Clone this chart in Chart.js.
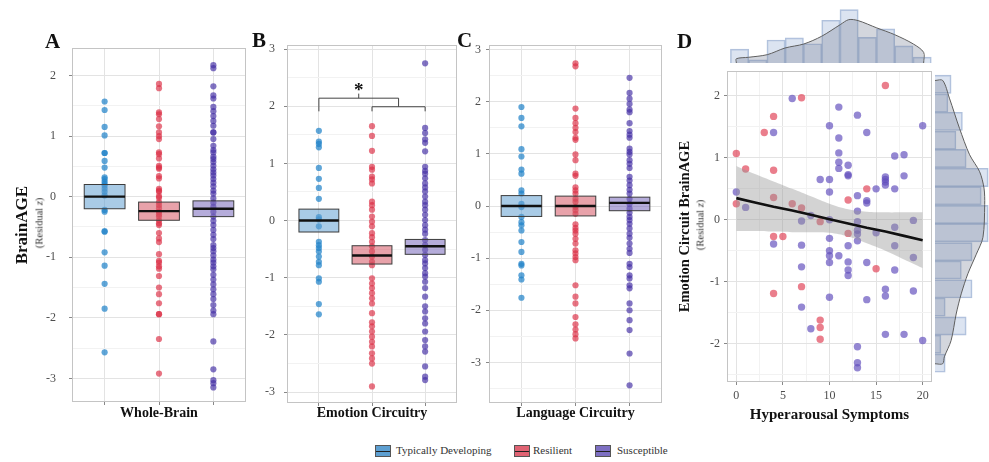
<!DOCTYPE html>
<html>
<head>
<meta charset="utf-8">
<title>BrainAGE by group</title>
<script src="https://cdn.jsdelivr.net/npm/chart.js@4.4.1/dist/chart.umd.min.js"></script>
<style>
  body { margin: 0; background: #fff; }
  #fig { position: relative; width: 989px; height: 462px; overflow: hidden; font-family: "Liberation Serif", serif; color: #222; }
  #fig canvas { position: absolute; }
  .letter { position: absolute; font-size: 21px; line-height: 21px; font-weight: bold; color: #111; }
  .sub { position: absolute; font-size: 10.5px; white-space: nowrap; color: #333; transform: translate(-50%, -50%) rotate(-90deg); }
  .key { position: absolute; top: 445px; width: 16px; height: 12px; border: 1px solid #555; box-sizing: border-box; }
  .key::after { content: ""; position: absolute; left: 0; right: 0; top: 4.5px; height: 1.5px; background: #222; }
  .ktxt { position: absolute; top: 443px; font-size: 11px; line-height: 15px; color: #333; white-space: nowrap; }
</style>
</head>
<body>
<div id="fig">
  <canvas id="cA" width="250" height="407" style="left:0;top:28px"></canvas>
  <canvas id="cB" width="211" height="407" style="left:250px;top:28px"></canvas>
  <canvas id="cC" width="205" height="407" style="left:461px;top:28px"></canvas>
  <canvas id="cD" width="270" height="372" style="left:666px;top:60px"></canvas>
  <canvas id="cTop" width="206" height="55" style="left:727px;top:8px"></canvas>
  <canvas id="cRight" width="54" height="316" style="left:935px;top:66px"></canvas>
  <div class="letter" style="left:45px;top:31px">A</div>
  <div class="letter" style="left:252px;top:30px">B</div>
  <div class="letter" style="left:457px;top:30px">C</div>
  <div class="letter" style="left:677px;top:31px">D</div>
  <div class="sub" style="left:39px;top:223px">(Residual <i>z</i>)</div>
  <div class="sub" style="left:700px;top:225px">(Residual <i>z</i>)</div>
  <div id="legend"></div>
</div>
<script>
// ---- data ----
const groups = ["Typically Developing", "Resilient", "Susceptible"];

// A: whole-brain residual BrainAGE per group
const wholeTD = [1.57, 1.43, 1.15, 1.01, 0.72, 0.72, 0.59, 0.48, 0.32, 0.29, 0.25, 0.21, 0.18, 0.13, 0.08, 0.02,
  -0.22, -0.25, -0.57, -0.58, -0.92, -1.14, -1.44, -1.85, -2.57];
const wholeRes = [1.86, 1.79, 1.39, 1.36, 1.28, 1.16, 1.06, 1.0, 0.95, 0.73, 0.7, 0.63, 0.51, 0.48, 0.46, 0.34, 0.3,
  0.13, 0.1, 0.08, 0.01, -0.02, -0.09, -0.14, -0.19, -0.25, -0.29, -0.33, -0.39, -0.44, -0.47, -0.6, -0.69, -0.75,
  -0.95, -1.06, -1.09, -1.15, -1.19, -1.31, -1.5, -1.61, -1.76, -1.94, -1.94, -2.35, -2.92];
const wholeSus = [2.17, 2.12, 1.82, 1.67, 1.62, 1.48, 1.41, 1.33, 1.25, 1.17, 1.06, 1.06, 0.95, 0.84, 0.77, 0.73, 0.66,
  0.62, 0.57, 0.51, 0.45, 0.4, 0.35, 0.29, 0.23, 0.17, 0.1, 0.05, -0.03, -0.1, -0.17, -0.25, -0.33, -0.4, -0.47, -0.55,
  -0.63, -0.7, -0.8, -0.85, -0.9, -0.97, -1.04, -1.09, -1.15, -1.2, -1.29, -1.37, -1.45, -1.53, -1.61, -1.69, -1.79,
  -1.88, -1.94, -2.39, -2.85, -3.03, -3.08, -3.15];
const wholeBox = [[-0.2, 0, 0.2], [-0.39, -0.24, -0.09], [-0.33, -0.2, -0.07]]; // q1, median, q3

// B: emotion circuitry
const emoTD = [1.57, 1.38, 1.34, 1.28, 0.92, 0.73, 0.57, 0.38, 0.06, 0.02, -0.1, -0.37, -0.43, -0.48, -0.54, -0.63,
  -0.72, -0.78, -1.01, -1.07, -1.46, -1.64];
const emoRes = [1.65, 1.48, 1.22, 0.94, 0.89, 0.77, 0.72, 0.65, 0.33, 0.27, 0.19, 0.07, -0.02, -0.1, -0.22, -0.29,
  -0.37, -0.45, -0.54, -0.63, -0.72, -0.78, -1.01, -1.1, -1.18, -1.27, -1.36, -1.45, -1.62, -1.78, -1.85, -1.94,
  -2.03, -2.12, -2.2, -2.32, -2.41, -2.5, -2.9];
const emoSus = [2.75, 1.62, 1.53, 1.42, 1.36, 1.21, 0.94, 0.87, 0.82, 0.74, 0.65, 0.58, 0.51, 0.42, 0.33, 0.27, 0.19,
  0.1, 0.01, -0.08, -0.16, -0.23, -0.34, -0.43, -0.51, -0.6, -0.69, -0.75, -0.83, -0.92, -0.98, -1.07, -1.18, -1.33,
  -1.5, -1.59, -1.71, -1.8, -1.94, -2.09, -2.2, -2.29, -2.55, -2.73, -2.79];
const emoBox = [[-0.2, 0, 0.2], [-0.76, -0.61, -0.44], [-0.59, -0.45, -0.33]];

// C: language circuitry
const langTD = [1.9, 1.69, 1.53, 1.09, 0.95, 0.7, 0.62, 0.3, 0.24, 0.04, -0.02, -0.21, -0.31, -0.37, -0.47, -0.69,
  -0.88, -1.11, -1.14, -1.33, -1.41, -1.76];
const langRes = [2.74, 2.68, 1.87, 1.69, 1.59, 1.5, 1.42, 1.31, 1.27, 0.99, 0.88, 0.62, 0.58, 0.36, 0.3, 0.24, 0.14,
  0.08, -0.02, -0.08, -0.15, -0.35, -0.42, -0.47, -0.53, -0.63, -0.72, -0.85, -0.91, -0.98, -1.04, -1.52, -1.74,
  -1.87, -2.13, -2.27, -2.37, -2.46, -2.54];
const langSus = [2.46, 2.17, 2.06, 1.96, 1.85, 1.8, 1.59, 1.44, 1.37, 1.31, 1.1, 1.04, 0.99, 0.88, 0.81, 0.73, 0.56,
  0.49, 0.4, 0.31, 0.24, 0.14, 0.04, -0.05, -0.13, -0.21, -0.27, -0.34, -0.43, -0.53, -0.61, -0.72, -0.82, -0.9,
  -1.11, -1.17, -1.33, -1.39, -1.52, -1.58, -1.87, -2.0, -2.19, -2.38, -2.83, -3.44];
const langBox = [[-0.2, 0, 0.2], [-0.19, 0, 0.19], [-0.09, 0.06, 0.17]];

// D: hyperarousal symptoms vs emotion circuit BrainAGE, [symptoms, residual]
const dResilient = [[16, 2.17], [7, 1.97], [4, 1.67], [3, 1.41], [0, 1.07], [1, 0.82], [4, 0.8], [14, 0.5], [12, 0.32],
  [4, 0.36], [0, 0.26], [6, 0.26], [7, 0.19], [9, -0.03], [12, -0.22], [4, -0.27], [5, -0.27], [15, -0.79],
  [4, -1.19], [7, -1.08], [9, -1.62], [9, -1.74], [9, -1.93]];
const dSusceptible = [[6, 1.96], [11, 1.82], [13, 1.69], [4, 1.41], [10, 1.52], [14, 1.41], [20, 1.52], [11, 1.32],
  [11, 1.08], [17, 1.03], [18, 1.05], [11, 0.93], [12, 0.88], [11, 0.83], [12, 0.73], [12, 0.71], [16, 0.69],
  [16, 0.65], [16, 0.61], [16, 0.56], [18, 0.71], [9, 0.65], [10, 0.65], [10, 0.45], [15, 0.5], [17, 0.5], [0, 0.45],
  [13, 0.39], [14, 0.31], [14, 0.27], [1, 0.2], [13, 0.14], [8, 0.07], [7, -0.02], [10, 0], [13, -0.03], [19, -0.01],
  [13, -0.17], [13, -0.23], [13, -0.34], [17, -0.12], [15, -0.21], [4, -0.39], [7, -0.41], [10, -0.3], [12, -0.42],
  [17, -0.42], [10, -0.5], [10, -0.58], [10, -0.69], [11, -0.58], [12, -0.68], [12, -0.81], [12, -0.9], [14, -0.69],
  [19, -0.61], [17, -0.81], [7, -0.76], [10, -1.25], [14, -1.29], [16, -1.12], [16, -1.23], [19, -1.15], [7, -1.41],
  [8, -1.76], [16, -1.85], [18, -1.85], [20, -1.95], [13, -2.05], [13, -2.31], [13, -2.39]];

// linear fit with 95% band
const fitX = [0, 2, 4, 6, 8, 10, 12, 14, 16, 18, 20];
const fitY = [0.35, 0.28, 0.21, 0.15, 0.08, 0.01, -0.06, -0.13, -0.19, -0.26, -0.33];
const fitUpper = [0.87, 0.74, 0.62, 0.5, 0.38, 0.26, 0.17, 0.13, 0.12, 0.12, 0.12];
const fitLower = [-0.18, -0.18, -0.19, -0.2, -0.2, -0.21, -0.27, -0.38, -0.5, -0.64, -0.78];

// marginal histograms + densities
const topBinMid = [0.34, 2.29, 4.24, 6.19, 8.14, 10.09, 12.04, 13.99, 15.94, 17.89, 19.84];
const topCounts = [2.6, 0.6, 4.3, 4.7, 3.6, 8.0, 10.0, 4.8, 6.4, 3.2, 1.1];
const topDensX = [0, 0, 1.3, 3.3, 5.2, 7.2, 9.1, 11.1, 12, 13, 15, 16.9, 18.9, 20, 20];
const topDensY = [0, 0.8, 1.07, 1.56, 2.81, 3.56, 5.0, 7.19, 8.12, 7.94, 6.57, 5.31, 3.56, 2.0, 0];
const rightBinMid = [2.11, 1.81, 1.52, 1.22, 0.93, 0.63, 0.34, 0.04, -0.25, -0.55, -0.84, -1.14, -1.43, -1.73, -2.02, -2.32];
const rightCounts = [3.0, 2.4, 5.1, 3.9, 5.8, 9.9, 8.6, 9.9, 9.9, 6.9, 4.9, 6.9, 1.9, 5.8, 1.1, 1.9];
const rightDensY = [2.17, 2.17, 1.89, 1.41, 0.99, 0.72, 0.46, 0.2, -0.32, -0.59, -0.9, -1.22, -1.54, -1.96, -2.22, -2.33, -2.33];
const rightDensX = [0, 1.44, 2.68, 4.56, 6.44, 8.31, 9.12, 9.25, 8.93, 7.69, 6.12, 4.88, 3.94, 3.0, 1.74, 1.43, 0];

// ---- styling ----
const pointColors = ["rgba(35,132,201,0.72)", "rgba(219,48,71,0.68)", "rgba(70,48,165,0.68)"];
const boxFills = ["rgba(98,160,210,0.55)", "rgba(214,86,100,0.55)", "rgba(120,104,188,0.55)"];
const keyFills = ["#5d9fd1", "#e06373", "#7d6fc2"];

Chart.defaults.font.family = '"Liberation Serif", "DejaVu Serif", serif';
Chart.defaults.color = "#4d4d4d";
Chart.defaults.animation = false;
Chart.defaults.events = [];
Chart.defaults.plugins.legend.display = false;
Chart.defaults.plugins.tooltip.enabled = false;

// light grey panel border
const framePlugin = {
  id: "frame",
  beforeDatasetsDraw(chart, args, opts) {
    if (!opts.color) return;
    const { ctx, chartArea: a } = chart;
    ctx.save();
    ctx.strokeStyle = opts.color;
    ctx.lineWidth = 1;
    ctx.strokeRect(Math.round(a.left) + 0.5, Math.round(a.top) + 0.5, Math.round(a.width) - 1, Math.round(a.height) - 1);
    ctx.restore();
  }
};

// boxes (q1..q3 with median) drawn over the points
const boxPlugin = {
  id: "boxes",
  afterDatasetsDraw(chart, args, opts) {
    if (!opts.boxes) return;
    const { ctx, scales: { x, y } } = chart;
    const half = x.getPixelForValue(1.375) - x.getPixelForValue(1);
    opts.boxes.forEach((b, i) => {
      const cx = x.getPixelForValue(i + 1);
      const top = y.getPixelForValue(b[2]), bot = y.getPixelForValue(b[0]), med = y.getPixelForValue(b[1]);
      ctx.save();
      ctx.fillStyle = boxFills[i];
      ctx.fillRect(cx - half, top, 2 * half, bot - top);
      ctx.strokeStyle = "#3c3c3c";
      ctx.lineWidth = 1;
      ctx.strokeRect(cx - half, top, 2 * half, bot - top);
      ctx.beginPath();
      ctx.moveTo(cx - half, med);
      ctx.lineTo(cx + half, med);
      ctx.lineWidth = 2.4;
      ctx.strokeStyle = "#111";
      ctx.stroke();
      ctx.restore();
    });
  }
};

// significance bracket in panel B
const bracketPlugin = {
  id: "bracket",
  afterDatasetsDraw(chart, args, opts) {
    if (!opts.lines) return;
    const { ctx, scales: { x, y } } = chart;
    ctx.save();
    ctx.strokeStyle = "#444";
    ctx.lineWidth = 1;
    opts.lines.forEach(seg => {
      ctx.beginPath();
      seg.forEach(([vx, vy], k) => {
        const px = x.getPixelForValue(vx), py = y.getPixelForValue(vy);
        k ? ctx.lineTo(px, py) : ctx.moveTo(px, py);
      });
      ctx.stroke();
    });
    ctx.fillStyle = "#111";
    ctx.font = 'bold 19px "Liberation Serif"';
    ctx.textAlign = "center";
    ctx.textBaseline = "middle";
    ctx.fillText(opts.label, x.getPixelForValue(opts.at[0]), y.getPixelForValue(opts.at[1]));
    ctx.restore();
  }
};

Chart.register(framePlugin, boxPlugin, bracketPlugin);

const gridColor = ctx => (Number.isInteger(ctx.tick.value) ? "#e3e3e3" : "#f2f2f2");
const intLabel = v => (Number.isInteger(v) ? v : "");

function stripChart(id, sets, boxes, cfg, extra) {
  const datasets = sets.map((vals, i) => ({
    label: groups[i],
    data: vals.map(v => ({ x: i + 1, y: v })),
    backgroundColor: pointColors[i],
    borderWidth: 0,
    pointRadius: 3.1
  }));
  return new Chart(document.getElementById(id), {
    type: "scatter",
    data: { datasets },
    options: {
      responsive: false,
      layout: { padding: { top: 17, right: 2, left: 0, bottom: 0 } },
      scales: {
        x: {
          min: 0.4, max: 3.6,
          ticks: { stepSize: 1, includeBounds: false, display: false },
          grid: { color: "#e3e3e3", tickLength: 3, tickColor: "#888" },
          border: { display: false },
          title: { display: true, text: cfg.title, color: "#111", font: { size: 14, weight: "bold" }, padding: { top: 0, bottom: 13.6 } },
          afterFit: s => { s.height = cfg.xH; }
        },
        y: {
          min: cfg.yMin, max: cfg.yMax,
          ticks: { stepSize: 0.5, includeBounds: false, autoSkip: false, callback: intLabel, padding: cfg.pad, font: { size: 12 } },
          grid: { color: gridColor, tickLength: 3, tickColor: ctx => (Number.isInteger(ctx.tick.value) ? "#888" : "transparent") },
          border: { display: false },
          title: cfg.yTitle || { display: false },
          afterFit: s => { s.width = cfg.yW; }
        }
      },
      plugins: Object.assign({ frame: { color: "#c4c4c4" }, boxes: { boxes } }, extra || {})
    }
  });
}

stripChart("cA", [wholeTD, wholeRes, wholeSus], wholeBox, {
  title: "Whole-Brain", xH: 33, yMin: -3.39, yMax: 2.45, pad: 13, yW: 72,
  yTitle: { display: true, text: "BrainAGE", color: "#111", font: { size: 17, weight: "bold" }, padding: { top: 12, bottom: 0 } }
});

stripChart("cB", [emoTD, emoRes, emoSus], emoBox, {
  title: "Emotion Circuitry", xH: 32, yMin: -3.19, yMax: 3.07, pad: 9, yW: 37
}, {
  bracket: {
    lines: [
      [[1, 1.91], [1, 2.14], [2.5, 2.14], [2.5, 1.99]],
      [[1.75, 2.14], [1.75, 2.22]],
      [[2, 1.91], [2, 1.99], [3, 1.99], [3, 1.91]]
    ],
    label: "*",
    at: [1.75, 2.27]
  }
});

stripChart("cC", [langTD, langRes, langSus], langBox, {
  title: "Language Circuitry", xH: 32, yMin: -3.78, yMax: 3.09, pad: 5, yW: 28
});

// panel D
const xy = (xs, ys) => xs.map((x, i) => ({ x, y: ys[i] }));
new Chart(document.getElementById("cD"), {
  type: "scatter",
  data: {
    datasets: [
      { type: "line", data: xy(fitX, fitUpper), borderColor: "transparent", borderWidth: 0, pointRadius: 0,
        fill: "+1", backgroundColor: "rgba(150,150,150,0.42)", tension: 0.4, order: 0 },
      { type: "line", data: xy(fitX, fitLower), borderColor: "transparent", borderWidth: 0, pointRadius: 0,
        fill: false, tension: 0.4, order: 0 },
      { type: "line", data: xy(fitX, fitY), borderColor: "#111", borderWidth: 2.6, pointRadius: 0, fill: false, order: -1 },
      { label: groups[1], data: dResilient.map(([x, y]) => ({ x, y })), backgroundColor: "rgba(226,76,96,0.72)",
        borderWidth: 0, pointRadius: 3.7, order: 1 },
      { label: groups[2], data: dSusceptible.map(([x, y]) => ({ x, y })), backgroundColor: "rgba(98,78,188,0.68)",
        borderWidth: 0, pointRadius: 3.7, order: 1 }
    ]
  },
  options: {
    responsive: false,
    layout: { padding: { top: 6, right: 3, left: 0, bottom: 0 } },
    scales: {
      x: {
        type: "linear", min: -1, max: 21,
        ticks: { stepSize: 2.5, includeBounds: false, autoSkip: false, callback: v => (v % 5 === 0 ? v : ""), padding: 4, font: { size: 12 } },
        grid: { color: ctx => (ctx.tick.value % 5 === 0 ? "#e3e3e3" : "#f2f2f2"), tickLength: 3,
                tickColor: ctx => (ctx.tick.value % 5 === 0 ? "#888" : "transparent") },
        border: { display: false },
        title: { display: true, text: "Hyperarousal Symptoms", color: "#111", font: { size: 15, weight: "bold" }, padding: { top: 0, bottom: 8 } },
        afterFit: s => { s.height = 50; }
      },
      y: {
        min: -2.62, max: 2.4,
        ticks: { stepSize: 0.5, includeBounds: false, autoSkip: false, callback: intLabel, padding: 4, font: { size: 12 } },
        grid: { color: gridColor, tickLength: 3, tickColor: ctx => (Number.isInteger(ctx.tick.value) ? "#888" : "transparent") },
        border: { display: false },
        title: { display: true, text: "Emotion Circuit BrainAGE", color: "#111", font: { size: 14.5, weight: "bold" }, padding: { top: 11, bottom: 0 } },
        afterFit: s => { s.width = 61; }
      }
    },
    plugins: { frame: { color: "#c4c4c4" } }
  }
});

const histFill = "rgba(186,202,228,0.5)", histEdge = "rgba(150,172,208,0.75)";
const densFill = "rgba(118,126,150,0.32)";

new Chart(document.getElementById("cTop"), {
  type: "bar",
  data: {
    datasets: [
      { type: "line", data: xy(topDensX, topDensY), fill: "origin", backgroundColor: densFill, borderColor: "#5e5e5e",
        borderWidth: 1, pointRadius: 0, tension: 0.3, order: 0 },
      { data: xy(topBinMid, topCounts), backgroundColor: histFill, borderColor: histEdge, borderWidth: 1,
        barPercentage: 1, categoryPercentage: 1, order: 1 }
    ]
  },
  options: {
    responsive: false,
    layout: { padding: 0 },
    scales: {
      x: { type: "linear", min: -1, max: 21, offset: false, display: false, grid: { offset: false } },
      y: { type: "linear", min: 0, max: 10.3, display: false }
    }
  }
});

new Chart(document.getElementById("cRight"), {
  type: "bar",
  data: {
    datasets: [
      { type: "line", indexAxis: "y", data: rightDensX.map((x, i) => ({ x, y: rightDensY[i] })), fill: "origin",
        backgroundColor: densFill, borderColor: "#5e5e5e", borderWidth: 1, pointRadius: 0, tension: 0.3, order: 0 },
      { indexAxis: "y", data: rightCounts.map((x, i) => ({ x, y: rightBinMid[i] })), backgroundColor: histFill,
        borderColor: histEdge, borderWidth: 1, barPercentage: 1, categoryPercentage: 1, order: 1 }
    ]
  },
  options: {
    responsive: false,
    indexAxis: "y",
    layout: { padding: 0 },
    scales: {
      x: { type: "linear", min: 0, max: 10.05, display: false },
      y: { type: "linear", min: -2.62, max: 2.4, offset: false, display: false, grid: { offset: false } }
    }
  }
});

// legend (boxplot keys)
const keyLeft = [375, 514, 595], textLeft = [396, 533, 617];
const legend = document.getElementById("legend");
groups.forEach((g, i) => {
  const k = document.createElement("div");
  k.className = "key";
  k.style.left = keyLeft[i] + "px";
  k.style.background = keyFills[i];
  legend.appendChild(k);
  const t = document.createElement("div");
  t.className = "ktxt";
  t.style.left = textLeft[i] + "px";
  t.textContent = g;
  legend.appendChild(t);
});
</script>
</body>
</html>
